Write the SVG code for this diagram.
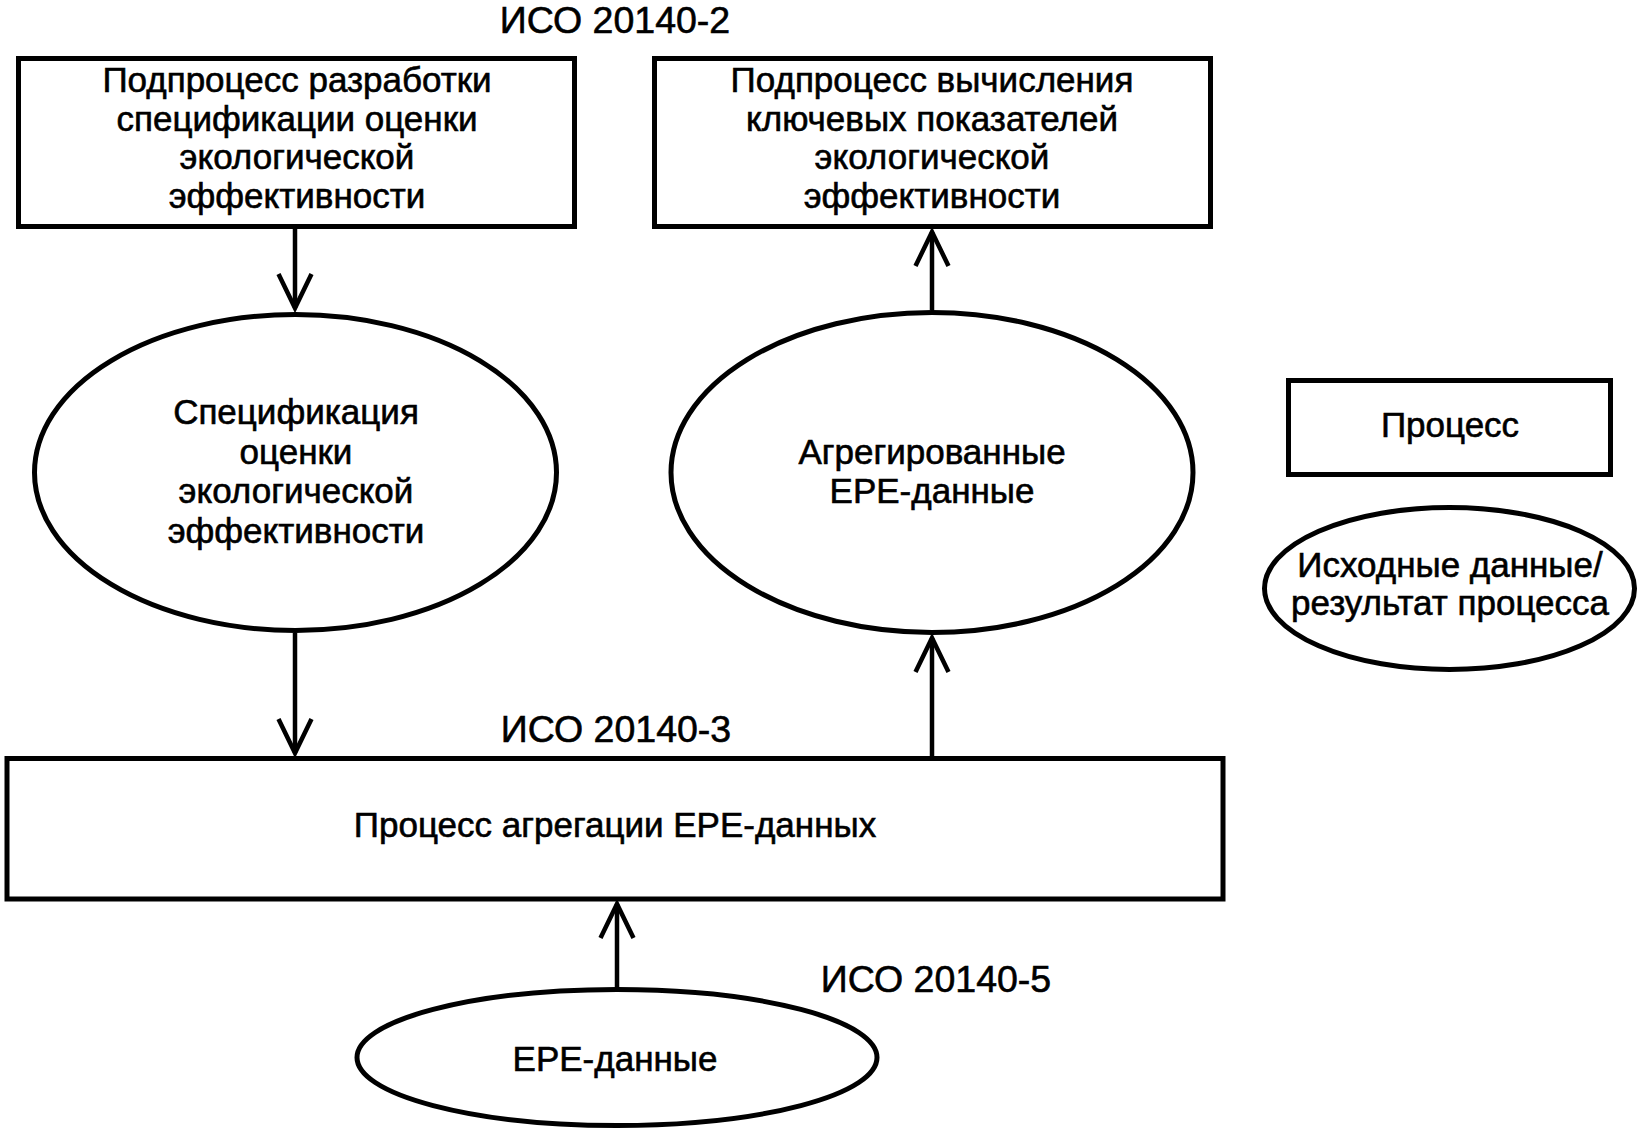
<svg xmlns="http://www.w3.org/2000/svg" width="1642" height="1137" viewBox="0 0 1642 1137">
  <style>
    .box { fill: #fff; stroke: #000; stroke-width: 5; }
    .ell { fill: #fff; stroke: #000; stroke-width: 5; }
    .con { fill: none; stroke: #000; stroke-width: 4.5; }
    text { font-family: "Liberation Sans", Arial, sans-serif; font-size: 35px; fill: #000; stroke: #000; stroke-width: 0.6; text-anchor: middle; }
    .iso { font-size: 37.5px; }
  </style>
  <defs>
    <marker id="arr" markerUnits="userSpaceOnUse" markerWidth="60" markerHeight="60" viewBox="-45 -30 60 60" refX="0" refY="0" orient="auto">
      <path d="M-34,-16.5 L0,0 L-34,16.5" fill="none" stroke="#000" stroke-width="4.5"/>
    </marker>
  </defs>
  <rect width="1642" height="1137" fill="#fff"/>

  <g id="label-iso2"><text class="iso" x="615" y="33">ИСО 20140-2</text></g>
  <g id="label-iso3"><text class="iso" x="616" y="742">ИСО 20140-3</text></g>
  <g id="label-iso5"><text class="iso" x="936" y="992">ИСО 20140-5</text></g>

  <g id="node-spec-process">
    <rect class="box" x="18.5" y="58.5" width="556" height="168"/>
    <text x="297" y="92">Подпроцесс разработки</text>
    <text x="297" y="130.5">спецификации оценки</text>
    <text x="297" y="169">экологической</text>
    <text x="297" y="208">эффективности</text>
  </g>

  <g id="node-kpi-process">
    <rect class="box" x="654.5" y="58.5" width="556" height="168"/>
    <text x="932" y="92">Подпроцесс вычисления</text>
    <text x="932" y="130.5">ключевых показателей</text>
    <text x="932" y="169">экологической</text>
    <text x="932" y="208">эффективности</text>
  </g>

  <g id="node-spec">
    <ellipse class="ell" cx="295.5" cy="472.5" rx="261" ry="158"/>
    <text x="296" y="424">Спецификация</text>
    <text x="296" y="463.5">оценки</text>
    <text x="296" y="503">экологической</text>
    <text x="296" y="542.5">эффективности</text>
  </g>

  <g id="node-aggregated">
    <ellipse class="ell" cx="932" cy="472.5" rx="261" ry="160"/>
    <text x="932" y="464">Агрегированные</text>
    <text x="932" y="503">ЕРЕ-данные</text>
  </g>

  <g id="node-aggregation-process">
    <rect class="box" x="7" y="758.5" width="1216" height="140.5"/>
    <text x="615" y="837">Процесс агрегации ЕРЕ-данных</text>
  </g>

  <g id="node-epe-data">
    <ellipse class="ell" cx="617" cy="1057.5" rx="260" ry="68"/>
    <text x="615" y="1071">ЕРЕ-данные</text>
  </g>

  <g id="legend-process">
    <rect class="box" x="1288.5" y="380.5" width="322" height="94"/>
    <text x="1450" y="437">Процесс</text>
  </g>

  <g id="legend-data">
    <ellipse class="ell" cx="1449.5" cy="588.5" rx="185" ry="81"/>
    <text x="1450" y="577">Исходные данные/</text>
    <text x="1450" y="615">результат процесса</text>
  </g>

  <g id="connectors">
    <line class="con" x1="295" y1="229" x2="295" y2="308" marker-end="url(#arr)"/>
    <line class="con" x1="932" y1="310" x2="932" y2="232" marker-end="url(#arr)"/>
    <line class="con" x1="295" y1="633" x2="295" y2="753" marker-end="url(#arr)"/>
    <line class="con" x1="932" y1="756" x2="932" y2="638" marker-end="url(#arr)"/>
    <line class="con" x1="617" y1="987" x2="617" y2="904" marker-end="url(#arr)"/>
  </g>
</svg>
